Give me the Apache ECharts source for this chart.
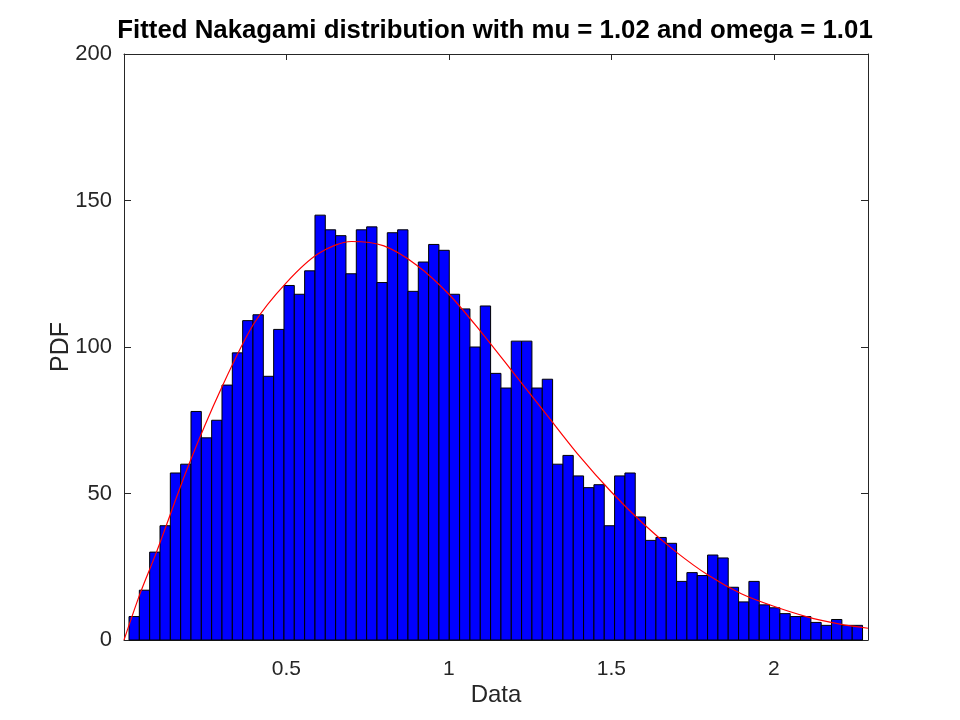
<!DOCTYPE html>
<html>
<head>
<meta charset="utf-8">
<script src="https://cdn.jsdelivr.net/npm/echarts@6/dist/echarts.min.js"></script>
<style>
html,body{margin:0;padding:0;background:#fff;}
#chart{width:960px;height:720px;}
</style>
</head>
<body>
<div id="chart"></div>
<script>
// Histogram: first bin left edge and bin width (data units)
const binStart = 0.0154;
const binWidth = 0.0318;
const counts = [8,17,30,39,57,60,78,69,75,87,98,109,111,90,106,121,118,126,145,140,
  138,125,140,141,122,139,140,119,129,135,133,118,113,100,114,91,86,102,102,86,
  89,60,63,56,52,53,39,56,57,42,34,35,33,20,23,22,29,28,18,13,
  20,12,11,9,8,8,6,5,7,5,5];
// Fitted Nakagami curve
const curveX = [0,0.05,0.1,0.2,0.3,0.4,0.5,0.6,0.7,0.8,0.9,1.0,1.1,1.2,1.3,1.4,1.5,1.6,1.7,1.8,1.9,2.0,2.1,2.2,2.29];
const curveY = [0,16,30,60,86,108,122,132,136,134.5,128,118,105,91,77,63,50.5,39.5,30,22,15.8,11.5,8,5.5,4];
const xTicks = [0.5,1,1.5,2];
const yTicks = [0,50,100,150,200];
const titleText = 'Fitted Nakagami distribution with mu = 1.02 and omega = 1.01';

const barData = counts.map((c,i)=>[binStart + i*binWidth, binStart + (i+1)*binWidth, c]);
const curveData = curveX.map((x,i)=>[x, curveY[i]]);

const FONT = 'Liberation Sans';
const TXT = '#262626';
const chart = echarts.init(document.getElementById('chart'), null, {renderer:'canvas'});
const xFmt = v => xTicks.some(t=>Math.abs(t-v)<1e-9) ? String(v) : '';
const yFmt = v => yTicks.some(t=>Math.abs(t-v)<1e-9) ? String(v) : '';
const axisCommon = {
  axisLine:{show:true, onZero:false, lineStyle:{color:TXT, width:1}},
  axisTick:{show:true, inside:true, length:7, lineStyle:{color:TXT, width:1}},
  splitLine:{show:false}
};
chart.setOption({
  animation:false,
  backgroundColor:'#fff',
  title:{
    text:titleText, left:490, top:13, textAlign:'center',
    textStyle:{fontFamily:FONT, fontWeight:'bold', fontSize:25.8, color:'#000'}
  },
  grid:{left:124, right:92, top:54, bottom:80, containLabel:false},
  xAxis:[
    Object.assign({type:'value', min:0, max:2.29, interval:0.5, position:'bottom',
      name:'Data', nameLocation:'middle', nameGap:43, nameMoveOverlap:false,
      nameTextStyle:{fontFamily:FONT, fontSize:24, color:TXT},
      axisLabel:{formatter:xFmt, margin:19, fontFamily:FONT, fontSize:21, color:TXT}}, axisCommon),
    Object.assign({type:'value', min:0, max:2.29, interval:0.5, position:'top',
      axisLabel:{show:false}}, axisCommon, {axisTick:{show:true, inside:true, length:6, lineStyle:{color:TXT}}})
  ],
  yAxis:[
    Object.assign({type:'value', min:0, max:200, interval:50, position:'left',
      name:'PDF', nameLocation:'middle', nameGap:50, nameMoveOverlap:false,
      nameTextStyle:{fontFamily:FONT, fontSize:25, color:TXT},
      axisLabel:{formatter:yFmt, margin:12, fontFamily:FONT, fontSize:22, color:TXT}}, axisCommon),
    Object.assign({type:'value', min:0, max:200, interval:50, position:'right',
      axisLabel:{show:false}}, axisCommon)
  ],
  series:[
    {
      type:'custom', xAxisIndex:0, yAxisIndex:0,
      data:barData,
      encode:{x:[0,1], y:2},
      renderItem:function(params, api){
        const p0 = api.coord([api.value(0), api.value(2)]);
        const p1 = api.coord([api.value(1), 0]);
        return {type:'rect',
          shape:{x:p0[0], y:p0[1], width:p1[0]-p0[0], height:p1[1]-p0[1]},
          style:{fill:'#0000ff', stroke:'#000', lineWidth:1}};
      },
      z:2
    },
    {
      type:'line', xAxisIndex:0, yAxisIndex:0,
      data:curveData, smooth:0.3, showSymbol:false, symbol:'none',
      lineStyle:{color:'#ff0000', width:1.2},
      z:3
    }
  ]
});
</script>
</body>
</html>
